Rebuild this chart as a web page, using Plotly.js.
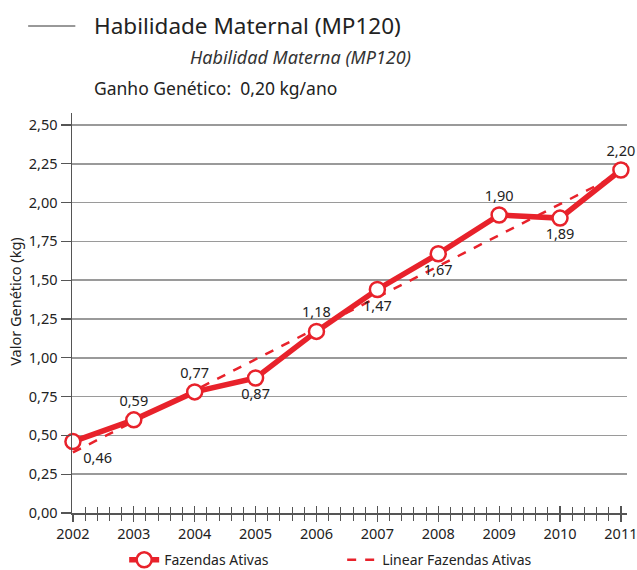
<!DOCTYPE html>
<html>
<head>
<meta charset="utf-8">
<script src="https://cdn.plot.ly/plotly-3.0.1.min.js"></script>
<style>
  body { margin: 0; background: #fff; }
  #chart { width: 637px; height: 570px; }
</style>
</head>
<body>
<div id="chart"></div>
<script>
// anos e valores
var anos = [2002, 2003, 2004, 2005, 2006, 2007, 2008, 2009, 2010, 2011];
var valores = [0.46, 0.60, 0.78, 0.87, 1.17, 1.44, 1.67, 1.92, 1.90, 2.21];
var rotulos = ["0,46", "0,59", "0,77", "0,87", "1,18", "1,47", "1,67", "1,90", "1,89", "2,20"];
var posRotulos = ["bottom right", "top center", "top center", "bottom center", "top center",
  "bottom center", "bottom center", "top center", "bottom center", "top center"];

// linha de tendencia (extremos)
var anosTend = [2002, 2011];
var valoresTend = [0.39, 2.19];

var vermelho = "#e8222b";
var fonte = "Noto Sans, sans-serif";

var serie = {
  x: anos,
  y: valores,
  xaxis: "x2",
  name: "Fazendas Ativas",
  type: "scatter",
  mode: "lines+markers+text",
  line: { color: vermelho, width: 5.5 },
  marker: { symbol: "circle", size: 15, color: "#fff", line: { color: vermelho, width: 2.5 } },
  text: rotulos,
  textposition: posRotulos,
  textfont: { family: fonte, size: 14.5, color: "#222" },
  cliponaxis: false
};

var tendencia = {
  x: anosTend,
  y: valoresTend,
  name: "Linear Fazendas Ativas",
  type: "scatter",
  mode: "lines",
  line: { color: vermelho, width: 2.5, dash: "dash" }
};

var eixoX = {
  range: [2001.985, 2011.1],
  tickvals: anos,
  ticktext: anos.map(String),
  ticklabeloverflow: "allow",
  showgrid: false,
  zeroline: false,
  showline: true,
  linecolor: "#555",
  linewidth: 1.5,
  ticks: "outside",
  ticklen: 7,
  tickcolor: "#555",
  tickwidth: 1.2,
  minor: { dtick: 0.2, tick0: 2002, ticks: "outside", ticklen: 6, tickcolor: "#555", tickwidth: 1, showgrid: false },
  tickfont: { family: fonte, size: 14.5, color: "#222" },
  fixedrange: true
};

var layout = {
  width: 637,
  height: 570,
  margin: { l: 72, r: 10, t: 113, b: 57, autoexpand: false },
  paper_bgcolor: "#fff",
  plot_bgcolor: "#fff",
  separators: ",.",
  showlegend: true,
  font: { family: fonte, color: "#222" },
  xaxis: eixoX,
  xaxis2: {
    overlaying: "x",
    anchor: "y",
    side: "bottom",
    range: [2001.985, 2011.1],
    tickvals: anos,
    showticklabels: false,
    showgrid: false,
    zeroline: false,
    showline: false,
    ticks: "inside",
    ticklen: 7,
    tickcolor: "#555",
    tickwidth: 1.2,
    minor: { dtick: 0.2, tick0: 2002, ticks: "inside", ticklen: 6, tickcolor: "#555", tickwidth: 1, showgrid: false }
  },
  yaxis: {
    range: [0, 2.577],
    tick0: 0,
    dtick: 0.25,
    tickformat: ".2f",
    showgrid: true,
    gridcolor: "#9a9a9a",
    gridwidth: 1.5,
    zeroline: false,
    showline: true,
    linecolor: "#555",
    linewidth: 1.5,
    ticks: "outside",
    ticklen: 10,
    tickcolor: "#555",
    tickwidth: 1.2,
    tickfont: { family: fonte, size: 14.5, color: "#222" },
    fixedrange: true
  },
  legend: {
    orientation: "h",
    x: 0.094,
    xanchor: "left",
    y: -0.118,
    yanchor: "middle",
    entrywidth: 173,
    entrywidthmode: "pixels",
    font: { family: fonte, size: 14, color: "#222" },
    bgcolor: "rgba(0,0,0,0)"
  },
  shapes: [
    { type: "line", xref: "paper", yref: "paper", x0: -0.079, x1: 0.006, y0: 1.2175, y1: 1.2175,
      line: { color: "#333", width: 1 } }
  ],
  annotations: [
    { text: "Habilidade Maternal (MP120)", xref: "paper", yref: "paper", x: 0.036, y: 1.2175,
      xanchor: "left", yanchor: "middle", showarrow: false,
      font: { family: fonte, size: 22.5, color: "#222" } },
    { text: "<i>Habilidad Materna (MP120)</i>", xref: "paper", yref: "paper", x: 0.6144, y: 1.14,
      xanchor: "right", yanchor: "middle", showarrow: false,
      font: { family: fonte, size: 18, color: "#333" } },
    { text: "Ganho Genético:  0,20 kg/ano", xref: "paper", yref: "paper", x: 0.036, y: 1.0625,
      xanchor: "left", yanchor: "middle", showarrow: false,
      font: { family: fonte, size: 17.5, color: "#222" } },
    { text: "Valor Genético (kg)", xref: "paper", yref: "paper", x: -0.103, y: 0.53,
      xanchor: "center", yanchor: "middle", textangle: -90, showarrow: false,
      font: { family: fonte, size: 14.5, color: "#222" } }
  ]
};

Plotly.newPlot("chart", [serie, tendencia], layout, { displayModeBar: false, staticPlot: true });
</script>
</body>
</html>
